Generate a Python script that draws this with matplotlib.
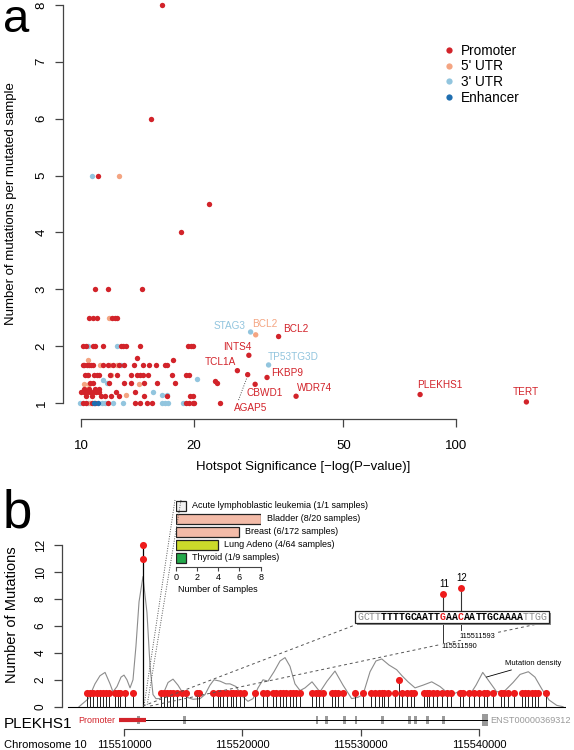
import matplotlib.pyplot as plt
from matplotlib.patches import Rectangle
from matplotlib.lines import Line2D

plt.rcParams['font.family'] = ['Liberation Sans', 'DejaVu Sans']

W, H = 574, 750

# ---------------- panel a data ----------------
# hotspots per category, grouped by y value (mutations per mutated sample)
promoter_rows = {
    8.0: [16.4],
    6.0: [15.4],
    5.0: [11.1],
    4.5: [21.9],
    4.0: [18.5],
    3.0: [10.9, 11.8, 14.5],
    2.5: [10.48, 10.75, 11.01, 12.07, 12.32, 12.5],
    2.0: [10.1, 10.3, 10.75, 10.9, 11.47, 12.76, 12.97, 13.16, 14.37, 19.3, 19.6, 19.9],
    1.8: [14.08],
    1.75: [17.6],
    1.67: [10.1, 10.2, 10.35, 10.5, 10.65, 10.8, 11.47, 11.78, 12.19, 12.65, 13.02,
           13.87, 14.61, 15.18, 15.82, 16.75, 16.9],
    1.5: [10.25, 10.46, 10.83, 11.01, 11.19, 11.95, 12.45, 13.57, 14.08, 14.37, 14.66,
          15.12, 17.52, 19.02, 19.41],
    1.39: [22.7],
    1.35: [23.0, 10.6, 10.8, 11.9, 13.0, 13.57, 14.75, 15.92, 17.81],
    1.25: [10.2, 10.5, 10.9, 11.2],
    1.2: [10.0, 10.2, 10.4, 10.6, 10.8, 11.0, 11.2, 12.4, 13.9],
    1.12: [19.5, 19.9, 10.3, 10.7, 11.3, 11.6, 12.0, 12.6, 14.7, 17.0],
    1.0: [10.1, 10.3, 10.68, 10.9, 11.78, 13.93, 14.37, 14.97, 15.43, 19.02, 19.41,
          19.9, 19.95, 23.48],
}
utr5_rows = {
    5.0: [12.6],
    2.5: [11.9],
    1.75: [10.46],
    1.67: [11.24, 11.95, 12.5],
    1.5: [10.39, 12.0],
    1.33: [10.2, 10.5, 14.31],
    1.25: [10.35],
    1.14: [13.2],
    1.0: [10.6],
}
utr3_rows = {
    5.0: [10.7],
    2.0: [10.46, 12.5],
    1.67: [12.76],
    1.43: [20.35],
    1.4: [11.47],
    1.35: [11.71],
    1.19: [15.6],
    1.14: [16.4, 16.9],
    1.0: [9.94, 10.46, 11.36, 11.59, 12.19, 12.92, 16.42, 16.75, 17.09, 18.74],
}
enhancer_rows = {
    1.0: [11.12, 10.85],
}

gene_names = ['STAG3', 'BCL2', 'BCL2', 'INTS4', 'TP53TG3D', 'TCL1A', 'AGAP5',
              'FKBP9', 'CBWD1', 'WDR74', 'PLEKHS1', 'TERT']
gene_x = [28.3, 29.2, 33.6, 28.0, 31.6, 26.1, 27.8, 31.3, 29.1, 37.4, 80.0, 153.5]
gene_y = [2.25, 2.2, 2.17, 1.84, 1.67, 1.57, 1.5, 1.45, 1.33, 1.12, 1.15, 1.02]
gene_cat = ['3utr', '5utr', 'prom', 'prom', '3utr', 'prom', 'prom',
            'prom', 'prom', 'prom', 'prom', 'prom']

# ---------------- panel b data ----------------
single_kb = [115506.9, 115507.1, 115507.4, 115507.7, 115508.0, 115508.2, 115508.5, 115508.7,
             115509.2, 115509.5, 115509.7, 115510.1, 115510.8,
             115513.1, 115513.4, 115513.6, 115513.9, 115514.1, 115514.5, 115514.9, 115515.2,
             115516.2, 115516.3,
             115517.5, 115517.9, 115518.1, 115518.4, 115518.7, 115519.0, 115519.2, 115519.5,
             115519.8, 115520.1,
             115521.1, 115521.7, 115522.1, 115522.6, 115522.8, 115523.2, 115523.4, 115523.7,
             115524.0, 115524.3, 115524.5, 115524.9,
             115525.9, 115526.2, 115526.5, 115526.8, 115527.6, 115527.8, 115528.1, 115528.5,
             115529.5, 115530.2,
             115530.9, 115531.2, 115531.5, 115531.8, 115532.0, 115532.3, 115532.9, 115533.5,
             115533.9, 115534.2, 115534.5,
             115535.3, 115535.6, 115535.8, 115536.1, 115536.4, 115536.9, 115537.3, 115537.6,
             115538.4, 115538.6, 115539.1,
             115539.6, 115540.0, 115540.4, 115540.7, 115541.2, 115541.8, 115542.1, 115542.4,
             115542.9,
             115543.6, 115543.9, 115544.1, 115544.5, 115544.7, 115545.0, 115545.6]
double_kb = [115533.2]
hotspot_pos = [115511590, 115511593]
hotspot_count = [11, 12]

density_kb = [115506.2, 115507.0, 115507.55, 115507.97, 115508.4, 115508.82, 115509.07,
              115509.41, 115509.75, 115510.0, 115510.25, 115510.51, 115510.76, 115511.01,
              115511.27, 115511.6, 115511.94, 115512.2, 115512.45, 115512.7, 115513.04,
              115513.38, 115513.72, 115514.14, 115514.56, 115514.98, 115515.32, 115515.83,
              115516.42, 115516.84, 115517.26, 115517.6, 115518.11, 115518.61, 115518.95,
              115519.46, 115519.97, 115520.47, 115520.9, 115521.32, 115521.74, 115522.16,
              115522.67, 115523.18, 115523.6, 115524.02, 115524.44, 115524.87, 115525.29,
              115525.88, 115526.55, 115527.15, 115527.82, 115528.5, 115529.23, 115529.76,
              115530.19, 115530.78, 115531.28, 115531.77, 115532.38, 115533.03, 115533.48,
              115533.99, 115534.58, 115535.25, 115535.99, 115536.69, 115537.36, 115537.96,
              115538.52, 115539.22, 115539.73, 115540.3, 115540.91, 115541.48, 115542.18,
              115542.86, 115543.45, 115544.15, 115544.71, 115545.3, 115545.9, 115546.55,
              115547.08]
density_val = [0, 0.6, 1.7, 2.3, 2.55, 1.7, 1.1, 1.5, 2.2, 2.35, 2.0, 1.4, 2.0, 4.5,
               7.8, 9.67, 7.0, 3.0, 0.9, 0.6, 0.6, 1.1, 1.8, 2.05, 1.6, 1.0, 0.7, 0.55,
               0.6, 0.9, 1.6, 2.0, 1.9, 1.7, 1.7, 1.5, 0.8, 0.4, 0.6, 1.4, 2.0, 1.9,
               2.6, 3.4, 3.65, 3.0, 1.7, 1.2, 1.4, 1.85, 1.1, 1.9, 2.65, 1.6, 0.6, 0.7,
               0.9, 2.6, 3.4, 3.55, 3.1, 2.75, 2.3, 1.85, 1.4, 1.6, 1.85, 1.5, 1.0, 1.0,
               1.2, 0.9, 1.6, 2.55, 1.8, 1.1, 1.2, 1.8, 2.4, 2.6, 2.2, 1.3, 0.5, 0.1, 0]

gene_start_kb, gene_end_kb = 115509.6, 115540.7
promoter_kb = (115509.6, 115511.9)
exon_kb = [115511.2, 115515.1, 115526.3, 115527.1, 115528.6, 115529.6, 115531.8,
           115534.1, 115534.6, 115535.6, 115537.0]
last_exon_kb = 115540.5
chrom_ticks = [115510000, 115520000, 115530000, 115540000]

tissues = ['Acute lymphoblastic leukemia (1/1 samples)', 'Bladder (8/20 samples)',
           'Breast (6/172 samples)', 'Lung Adeno (4/64 samples)', 'Thyroid (1/9 samples)']
tissue_n = [1, 8, 6, 4, 1]
tissue_col = ['#F2F2F2', '#F3BBA8', '#F3BBA8', '#CBDA2A', '#22A84A']

sequence = 'GCTTTTTTGCAATTGAACAATTGCAAAATTGG'
seq_start = 115511576

# ---------------- figure ----------------
fig = plt.figure(figsize=(W / 100, H / 100), dpi=100)


def axes_px(left, top, right, bottom):
    return fig.add_axes([left / W, 1 - bottom / H, (right - left) / W, (bottom - top) / H])


def fx(px):
    return px / W


def fy(py):
    return 1 - py / H


axis_col = '#444444'
cols = {'prom': '#D2232A', '5utr': '#F4A582', '3utr': '#92C5DE', 'enh': '#1F6EB0'}

# ---- panel a ----
ax = axes_px(63, -11, 544, 419)
ax.set_xscale('log')
ax.set_xlim(8.96, 171)
ax.set_ylim(0.72, 8.28)

for rows, key in [(utr3_rows, '3utr'), (utr5_rows, '5utr'), (promoter_rows, 'prom'),
                  (enhancer_rows, 'enh')]:
    xs = [x for yv, xl in rows.items() for x in xl]
    ys = [yv for yv, xl in rows.items() for x in xl]
    ax.scatter(xs, ys, s=15, color=cols[key], linewidths=0, zorder=3)

ax.scatter(gene_x, gene_y, s=15, color=[cols[c] for c in gene_cat], linewidths=0, zorder=3)

label_style = {
    'STAG3': ((-5, 6), 'right'), 'INTS4': ((3, 8.5), 'right'), 'TCL1A': ((-1, 8.5), 'right'),
    'TP53TG3D': ((-1, 8), 'left'), 'FKBP9': ((4.5, 4.5), 'left'), 'CBWD1': ((-9, -9), 'left'),
    'WDR74': ((1, 8.5), 'left'), 'PLEKHS1': ((-2.5, 9.5), 'left'), 'TERT': ((-1, 10), 'center'),
    'AGAP5': ((-14, -33), 'left'),
}
for i, name in enumerate(gene_names):
    if name == 'BCL2':
        off, ha = (((-4, 11), 'left') if gene_cat[i] == '5utr' else ((4.5, 8), 'left'))
    else:
        off, ha = label_style[name]
    ax.annotate(name, (gene_x[i], gene_y[i]), xytext=off, textcoords='offset pixels',
                ha=ha, va='center', fontsize=7.2, color=cols[gene_cat[i]])

# dotted connector for AGAP5
agap = gene_names.index('AGAP5')
ax.plot([gene_x[agap] * 0.993, gene_x[agap] * 0.945], [gene_y[agap] - 0.07, gene_y[agap] - 0.45],
        ls=(0, (1, 1.5)), color='#555555', lw=0.7)

for s in ['top', 'right']:
    ax.spines[s].set_visible(False)
ax.spines['left'].set_bounds(1, 8)
ax.spines['bottom'].set_bounds(10, 100)
for s in ['left', 'bottom']:
    ax.spines[s].set_color(axis_col)
    ax.spines[s].set_linewidth(0.9)
ax.set_xticks([10, 20, 50, 100])
ax.set_xticklabels(['10', '20', '50', '100'])
ax.minorticks_off()
ax.set_yticks(range(1, 9))
ax.set_yticklabels([str(v) for v in range(1, 9)], rotation=90, va='center')
ax.tick_params(length=6, width=0.9, color=axis_col, labelsize=9.5, pad=5)
ax.tick_params(axis='x', pad=9)

fig.text(fx(303), fy(467), 'Hotspot Significance [\u2212log(P\u2212value)]', ha='center',
         va='center', fontsize=9.5)
fig.text(fx(11), fy(204), 'Number of mutations per mutated sample', rotation=90,
         ha='center', va='center', fontsize=9.5)

handles = [Line2D([], [], marker='o', ls='', markersize=4.5, markeredgewidth=0,
                  color=cols[k]) for k in ['prom', '5utr', '3utr', 'enh']]
fig.legend(handles, ['Promoter', "5' UTR", "3' UTR", 'Enhancer'], loc='upper left',
           bbox_to_anchor=(fx(434), fy(37)), frameon=False, fontsize=9.8,
           handletextpad=0.3, labelspacing=0.12, handlelength=1.2, borderpad=0)

fig.text(fx(3), fy(32), 'a', fontsize=34, va='baseline', ha='left')
fig.text(fx(3), fy(527), 'b', fontsize=38, va='baseline', ha='left')

# ---- panel b ----
x_lo, x_hi = 115504764, 115547331
axb = axes_px(62, 537.2, 566, 709.4)
axb.set_xlim(x_lo, x_hi)
axb.set_ylim(-0.2, 12.6)

axb.plot([k * 1000 for k in density_kb], density_val, color='#8C8C8C', lw=0.8, zorder=2)
axb.plot([x_lo + 500, x_hi], [0, 0], color='black', lw=0.8, zorder=2)

pos1 = [k * 1000 for k in single_kb]
axb.vlines(pos1, 0, 1, color='#222222', lw=0.7, zorder=3)
axb.scatter(pos1, [1] * len(pos1), s=26, color='#EE1C1C', linewidths=0, zorder=4)
pos2 = [k * 1000 for k in double_kb]
axb.vlines(pos2, 0, 2, color='#222222', lw=0.7, zorder=3)
axb.scatter(pos2, [2] * len(pos2), s=26, color='#EE1C1C', linewidths=0, zorder=4)
axb.vlines(hotspot_pos[0], 0, max(hotspot_count), color='black', lw=0.9, zorder=3)
axb.scatter(hotspot_pos, hotspot_count, s=26, color='#EE1C1C', linewidths=0, zorder=4)

axb.annotate('Mutation density', xy=(115540600, 2.2), xytext=(115542200, 3.2),
             fontsize=5.5, ha='left', va='center',
             arrowprops=dict(arrowstyle='-', color='black', lw=0.6, shrinkA=0, shrinkB=0))

for s in ['top', 'right', 'bottom']:
    axb.spines[s].set_visible(False)
axb.spines['left'].set_bounds(0, 12)
axb.spines['left'].set_color(axis_col)
axb.spines['left'].set_linewidth(0.9)
axb.set_xticks([])
axb.set_yticks(range(0, 13, 2))
axb.set_yticklabels([str(v) for v in range(0, 13, 2)], rotation=90, va='center')
axb.tick_params(axis='y', length=6, width=0.9, color=axis_col, labelsize=8.5, pad=5)
fig.text(fx(12), fy(615), 'Number of Mutations', rotation=90, ha='center', va='center',
         fontsize=10.5)

# ---- gene track ----
axg = axes_px(62, 710, 566, 729)
axg.set_xlim(x_lo, x_hi)
axg.set_ylim(0, 1)
gy = 0.47
axg.plot([gene_start_kb * 1000, gene_end_kb * 1000], [gy, gy], color='black', lw=0.7)
axg.plot([promoter_kb[0] * 1000, promoter_kb[1] * 1000], [gy, gy], color='#D2232A', lw=3,
         solid_capstyle='butt')
for e in exon_kb:
    axg.add_patch(Rectangle((e * 1000 - 120, gy - 0.22), 240, 0.44, color='#9A9A9A', lw=0))
axg.add_patch(Rectangle((last_exon_kb * 1000 - 250, gy - 0.3), 500, 0.6, color='#9A9A9A', lw=0))
axg.text(promoter_kb[0] * 1000 - 350, gy, 'Promoter', color='#D2232A', fontsize=6.5,
         ha='right', va='center')
axg.text(last_exon_kb * 1000 + 450, gy, 'ENST00000369312', color='#9A9A9A', fontsize=6.6,
         ha='left', va='center')
for s in ['top', 'right', 'left']:
    axg.spines[s].set_visible(False)
axg.spines['bottom'].set_bounds(chrom_ticks[0], chrom_ticks[-1])
axg.spines['bottom'].set_color(axis_col)
axg.set_yticks([])
axg.set_xticks(chrom_ticks)
axg.set_xticklabels([str(t) for t in chrom_ticks])
axg.tick_params(axis='x', length=5, width=0.9, color=axis_col, labelsize=8, pad=3)
fig.text(fx(4), fy(724), 'PLEKHS1', fontsize=11, ha='left', va='center')
fig.text(fx(4), fy(745), 'Chromosome 10', fontsize=8, ha='left', va='center')

# ---- inset bar chart ----
axi = axes_px(175.7, 499, 260.7, 566.7)
axi.set_xlim(0, 8)
axi.set_ylim(4.69, -0.515)
axi.barh(range(len(tissue_n)), tissue_n, height=0.77, color=tissue_col, edgecolor='#222222',
         lw=0.9)
for i, (t, n) in enumerate(zip(tissues, tissue_n)):
    axi.text(n + 0.55, i, t, fontsize=6.5, ha='left', va='center', clip_on=False)
for s in ['top', 'right', 'left']:
    axi.spines[s].set_visible(False)
axi.spines['bottom'].set_color(axis_col)
axi.set_yticks([])
axi.set_xticks([0, 2, 4, 6, 8])
axi.tick_params(axis='x', length=3, width=0.8, color=axis_col, labelsize=6.5, pad=1.5)
axi.set_xlabel('Number of Samples', fontsize=6.5, labelpad=2)

# dotted lines from inset to hotspot
for (x0, y0, x1, y1) in [(175, 500, 144, 706), (181, 500, 147, 706)]:
    fig.add_artist(Line2D([fx(x0), fx(x1)], [fy(y0), fy(y1)], ls=(0, (1, 1.5)),
                          color='#555555', lw=0.7))

# ---- sequence zoom box ----
bx0, bx1, by0, by1 = 355, 549, 611, 623
for (x0, y0, x1, y1) in [(143, 706, bx0, 625), (150, 706, 547, 622)]:
    fig.add_artist(Line2D([fx(x0), fx(x1)], [fy(y0), fy(y1)], ls=(0, (3, 3)),
                          color='#555555', lw=0.7, zorder=1))
fig.add_artist(Rectangle((fx(bx0 + 2), fy(by1 + 2)), (bx1 - bx0) / W, (by1 - by0) / H,
                         transform=fig.transFigure, color='#888888', lw=0, zorder=4))
fig.add_artist(Rectangle((fx(bx0), fy(by1)), (bx1 - bx0) / W, (by1 - by0) / H,
                         transform=fig.transFigure, facecolor='white', edgecolor='#222222',
                         lw=0.9, zorder=5))
cw = 5.9
cx0 = 357.3
for i, ch in enumerate(sequence):
    pos = seq_start + i
    if i < 4 or i >= 28:
        c, wgt = '#8A8A8A', 'normal'
    elif pos in hotspot_pos:
        c, wgt = '#E3191C', 'bold'
    else:
        c, wgt = 'black', 'bold'
    fig.text(fx(cx0 + (i + 0.5) * cw), fy((by0 + by1) / 2), ch, family='Liberation Mono',
             fontsize=7.1, color=c, weight=wgt, ha='center', va='center', zorder=6)

for p, n in zip(hotspot_pos, hotspot_count):
    xc = cx0 + (p - seq_start + 0.5) * cw
    ytop = by0 - (n - 8.2) * 6
    fig.add_artist(Line2D([fx(xc), fx(xc)], [fy(by0), fy(ytop)], color='#333333', lw=0.8))
    fig.add_artist(Line2D([fx(xc)], [fy(ytop)], marker='o', markersize=5, color='#EE1C1C',
                          markeredgewidth=0))
    fig.text(fx(xc + 1), fy(ytop - 10), str(n), fontsize=7, ha='center', va='center')

# coordinate labels under box
xa = cx0 + (hotspot_pos[0] - seq_start + 0.5) * cw
xb = cx0 + (hotspot_pos[1] - seq_start + 0.5) * cw
fig.add_artist(Line2D([fx(xa), fx(xa)], [fy(by1), fy(642)], color='#333333', lw=0.7))
fig.add_artist(Line2D([fx(xb), fx(xb)], [fy(by1 + 1), fy(630)], color='#333333', lw=0.7))
fig.text(fx(xa - 1.5), fy(647), str(hotspot_pos[0]), fontsize=5.3, ha='left', va='center',
         bbox=dict(facecolor='white', edgecolor='none', pad=0.5), zorder=6)
fig.text(fx(xb - 1), fy(636), str(hotspot_pos[1]), fontsize=5.3, ha='left', va='center',
         bbox=dict(facecolor='white', edgecolor='none', pad=0.5), zorder=6)

fig.savefig('out.png', dpi=100)
